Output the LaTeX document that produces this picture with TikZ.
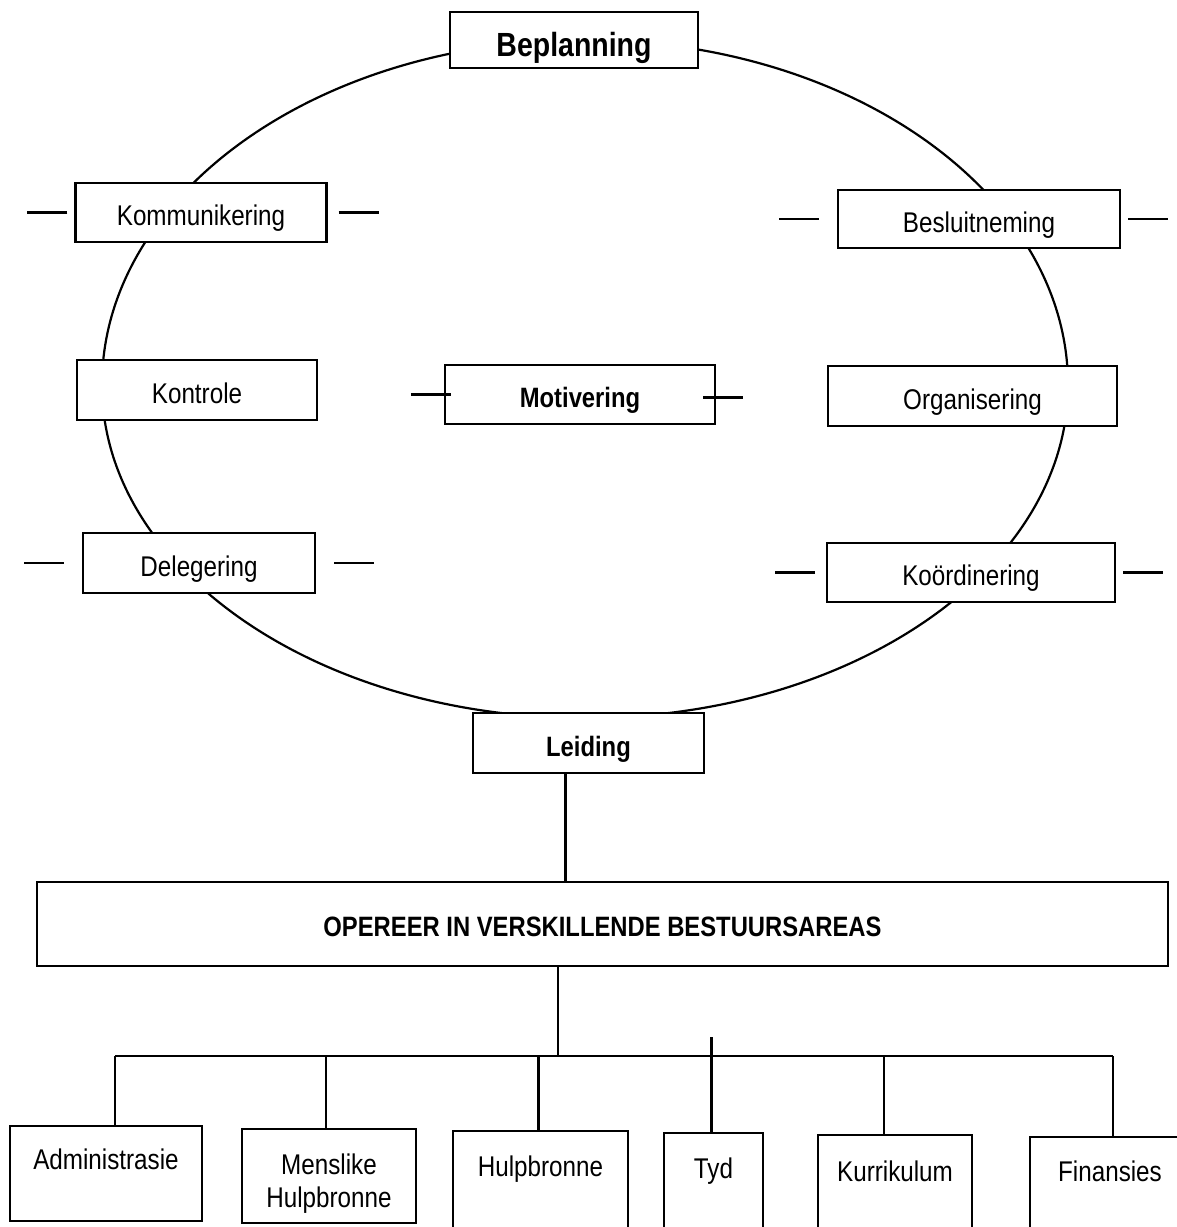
\documentclass[tikz,border=0pt]{standalone}
\usepackage{fontspec}
\setmainfont{Liberation Sans}[FakeStretch=0.85]

\tikzset{
    box/.style={draw, fill=white, line width=2.2pt, inner sep=0pt,
        text height=26.4pt, text depth=0pt,
        font=\fontsize{28.5}{33}\selectfont},
    keybox/.style={box, font=\fontsize{28}{33}\selectfont\bfseries},
    areabox/.style={box, anchor=north, align=center, text height=44pt, text depth=52pt},
    tick/.style={line width=2.2pt},
    link/.style={line width=2.2pt},
}

\begin{document}
\begin{tikzpicture}[x=1pt, y=-1pt]
    \useasboundingbox (0,0) rectangle (1177,1227);

    % the ring of functions (flatter below than above)
    \draw[link] (102,385) arc[start angle=180, end angle=0, x radius=483pt, y radius=345pt]
        arc[start angle=0, end angle=-180, x radius=483pt, y radius=333pt] -- cycle;

    \node[keybox, minimum width=248pt, minimum height=56pt, text height=32pt,
        font=\fontsize{33.5}{38}\selectfont\bfseries] (bepl) at (574,40) {Beplanning};
    \node[box, minimum width=251pt, minimum height=59pt] (komm) at (201,212.5) {Kommunikering};
    \node[box, minimum width=282pt, minimum height=58pt] (besl) at (979,219) {Besluitneming};
    \node[box, minimum width=240pt, minimum height=60pt] (kont) at (197,390) {Kontrole};
    \node[keybox, minimum width=270pt, minimum height=59pt] (moti) at (580,394.5) {Motivering};
    \node[box, minimum width=289pt, minimum height=60pt] (orga) at (972.5,396) {Organisering};
    \node[box, minimum width=232pt, minimum height=60pt] (dele) at (199,563) {Delegering};
    \node[box, minimum width=288pt, minimum height=59pt] (koor) at (971,572.5) {Koördinering};
    \node[keybox, minimum width=231pt, minimum height=60pt] (leid) at (588.5,743) {Leiding};

    \foreach \n/\a/\b in {komm/7/11, besl/18/7, dele/18/18, koor/11/7} {
        \draw[tick] ([xshift=-\a pt]\n.west) -- ++(-40,0);
        \draw[tick] ([xshift=\b pt]\n.east) -- ++(40,0);
    }
    \draw[tick] ([xshift=-33pt]moti.west) -- ([xshift=7pt]moti.west);
    \draw[tick] ([xshift=-13pt,yshift=-3pt]moti.east) -- ([xshift=27pt,yshift=-3pt]moti.east);

    % areas
    \node[keybox, minimum width=1131pt, minimum height=84pt, text height=25pt] (oper) at (602.5,924) {OPEREER IN VERSKILLENDE BESTUURSAREAS};
    \draw[link] ([xshift=-23pt]leid.south) coordinate (lt) -- (lt |- oper.north);

    \coordinate (bus) at (558,1056);
    \draw[link] (bus |- oper.south) -- (bus);

    \node[areabox, minimum width=192pt, text height=43pt] (admi) at (106,1125) {Administrasie};
    \node[areabox, minimum width=174pt, text height=78pt, text depth=16pt] (mens) at (329,1128) {Menslike\\Hulpbronne};
    \node[areabox, minimum width=175pt, text height=45pt] (hulp) at (540.5,1130) {Hulpbronne};
    \node[areabox, minimum width=99pt, text height=45pt] (tyd) at (713.5,1132) {Tyd};
    \node[areabox, minimum width=154pt, text depth=60pt, text height=46pt] (kurr) at (895,1134) {Kurrikulum};
    \node[areabox, minimum width=160pt, text depth=60pt, text height=44pt] (fina) at (1110,1136) {Finansies};

    \draw[link] ([xshift=9pt]admi.north |- bus) -- ([xshift=3pt]fina.north |- bus);
    \foreach \n/\dx in {admi/9, mens/-3, hulp/-2, kurr/-11, fina/3} {
        \draw[link] ([xshift=\dx pt]\n.north) -- ([xshift=\dx pt]\n.north |- bus);
    }
    \draw[link] ([xshift=-2pt]tyd.north) -- ++(0,-95);

\end{tikzpicture}
\end{document}
